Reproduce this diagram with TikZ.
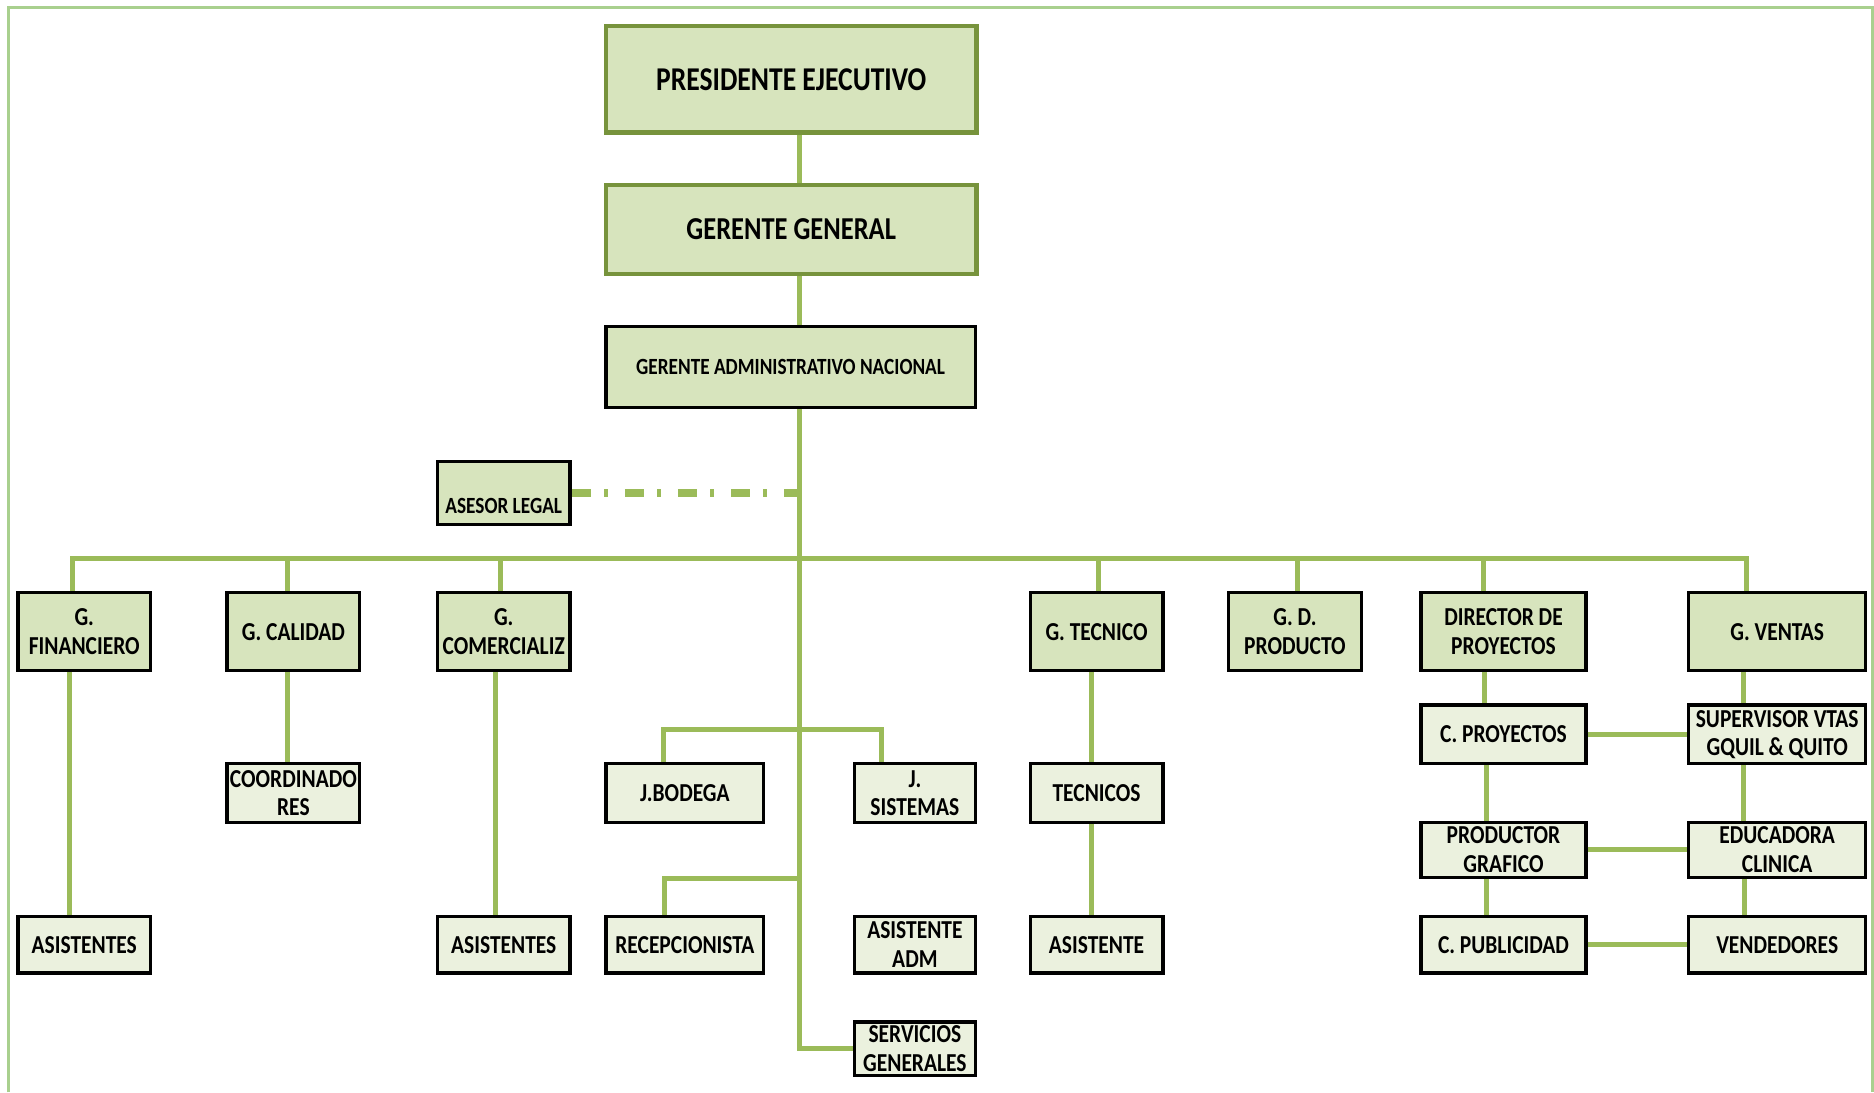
\documentclass[tikz,border=0pt]{standalone}
\usepackage{fontspec}
\setmainfont{Carlito}[FakeStretch=0.83]
\usepackage{xcolor}
\usetikzlibrary{positioning,calc}
\definecolor{olivebrd}{HTML}{77933C}
\definecolor{lightolive}{HTML}{D7E4BD}
\definecolor{paleolive}{HTML}{EBF1DE}
\definecolor{linkgreen}{HTML}{9BBB59}
\definecolor{framegreen}{HTML}{A9D08E}
\newcommand{\smallbf}{\bfseries\fontsize{7.7}{8.5}\selectfont}
\newcommand{\tinybf}{\bfseries\fontsize{6.9}{8}\selectfont}

\begin{document}
\begin{tikzpicture}[x=0.125mm, y=-0.125mm,
  sz/.style 2 args={minimum width=#1*0.125mm, minimum height=#2*0.125mm},
  chief/.style={draw=olivebrd, line width=1.3pt, fill=lightolive, inner sep=0pt,
                align=center},
  head/.style={draw=black, line width=1pt, fill=lightolive, inner sep=0pt,
               align=center, font=\smallbf},
  unit/.style={head, fill=paleolive},
  ln/.style={draw=linkgreen, line width=1.5pt},
  adv/.style={draw=linkgreen, line width=2.3pt,
              dash pattern=on 5.6pt off 4pt on 1.2pt off 5pt},
  frm/.style={draw=framegreen, line width=0.9pt}]
\useasboundingbox (0,0) rectangle (1568,914);
\draw[frm] (7.5,914) -- (7.5,6) -- (1566.5,6) -- (1566.5,914);

% top of the chart
\node[chief, sz={310}{89}, font=\bfseries\fontsize{9.9}{11}\selectfont] (pres) at (662,66.5) {PRESIDENTE EJECUTIVO};
\node[chief, sz={310}{74}, font=\bfseries\fontsize{9.5}{11}\selectfont] (gg) at (662,192) {GERENTE GENERAL};
\node[head, sz={309}{68}, font=\tinybf] (gan) at (661.5,307) {GERENTE ADMINISTRATIVO NACIONAL};
\node[head, sz={111}{53}, font=\tinybf] (legal) at (421.5,412.5) {\rule{0pt}{4.4mm}ASESOR LEGAL};

% managers
\node[head, sz={111}{65}] (gfin) at (70.5,528.5) {G.\\FINANCIERO};
\node[head, sz={111}{65}] (gcal) at (245.5,528.5) {G. CALIDAD};
\node[head, sz={111}{65}] (gcom) at (421.5,528.5) {G.\\COMERCIALIZ};
\node[head, sz={111}{65}] (gtec) at (917.5,528.5) {G. TECNICO};
\node[head, sz={111}{65}] (gdp) at (1083.5,528.5) {G. D.\\PRODUCTO};
\node[head, sz={138}{65}] (dirp) at (1258,528.5) {DIRECTOR DE\\PROYECTOS};
\node[head, sz={148}{65}] (gven) at (1487,528.5) {G. VENTAS};

% staff
\node[unit, sz={111}{49}] (coord) at (245.5,663.5) {COORDINADO\\RES};
\node[unit, sz={132}{49}] (jbod) at (573,663.5) {J.BODEGA};
\node[unit, sz={101}{49}] (jsis) at (765.5,663.5) {J.\\SISTEMAS};
\node[unit, sz={111}{49}] (tecs) at (917.5,663.5) {TECNICOS};
\node[unit, sz={138}{49}] (cproy) at (1258,614.5) {C. PROYECTOS};
\node[unit, sz={148}{49}] (super) at (1487,614.5) {SUPERVISOR VTAS\\GQUIL \& QUITO};
\node[unit, sz={138}{46}] (prod) at (1258,711) {PRODUCTOR\\GRAFICO};
\node[unit, sz={148}{46}] (educ) at (1487,711) {EDUCADORA\\CLINICA};

\node[unit, sz={111}{47}] (asfin) at (70.5,790.5) {ASISTENTES};
\node[unit, sz={111}{47}] (ascom) at (421.5,790.5) {ASISTENTES};
\node[unit, sz={132}{47}] (recep) at (573,790.5) {RECEPCIONISTA};
\node[unit, sz={101}{47}] (asadm) at (765.5,790.5) {ASISTENTE\\ADM};
\node[unit, sz={111}{47}] (astec) at (917.5,790.5) {ASISTENTE};
\node[unit, sz={138}{47}] (cpub) at (1258,790.5) {C. PUBLICIDAD};
\node[unit, sz={148}{47}] (vend) at (1487,790.5) {VENDEDORES};
\node[unit, sz={101}{45}] (serv) at (765.5,877.5) {SERVICIOS\\GENERALES};

% connectors
\coordinate (spine) at (669,0);
\coordinate (bus) at (669,467);
\coordinate (fork1) at (669,610);
\coordinate (fork2) at (669,735);
\draw[ln] (pres.south -| spine) -- (gg.north -| spine);
\draw[ln] (gg.south -| spine) -- (gan.north -| spine);
\draw[ln] (gan.south -| spine) |- (serv.west);
\draw[adv] (legal.east) -- (legal.east -| spine);
\foreach \n/\dx in {gfin/-10, gcal/-5, gcom/-3, gtec/2, gdp/2.5, dirp/-17, gven/-26}
  \draw[ln] ($(\n.north)+(\dx,0)$) |- (bus);
\foreach \a/\b/\dx in {gfin/asfin/-12, gcal/coord/-5, gcom/ascom/-7, gtec/tecs/-4,
    tecs/astec/-4, dirp/cproy/-16, cproy/prod/-14, prod/cpub/-14,
    gven/super/-28, super/educ/-28, educ/vend/-27}
  \draw[ln] ($(\a.south)+(\dx,0)$) -- ($(\b.north)+(\dx,0)$);
\foreach \a/\b in {cproy/super, prod/educ, cpub/vend}
  \draw[ln] (\a.east) -- (\b.west);
\draw[ln] ($(jbod.north)+(-18,0)$) |- (fork1) -| ($(jsis.north)+(-28,0)$);
\draw[ln] (fork2) -| ($(recep.north)+(-17,0)$);
\end{tikzpicture}
\end{document}
